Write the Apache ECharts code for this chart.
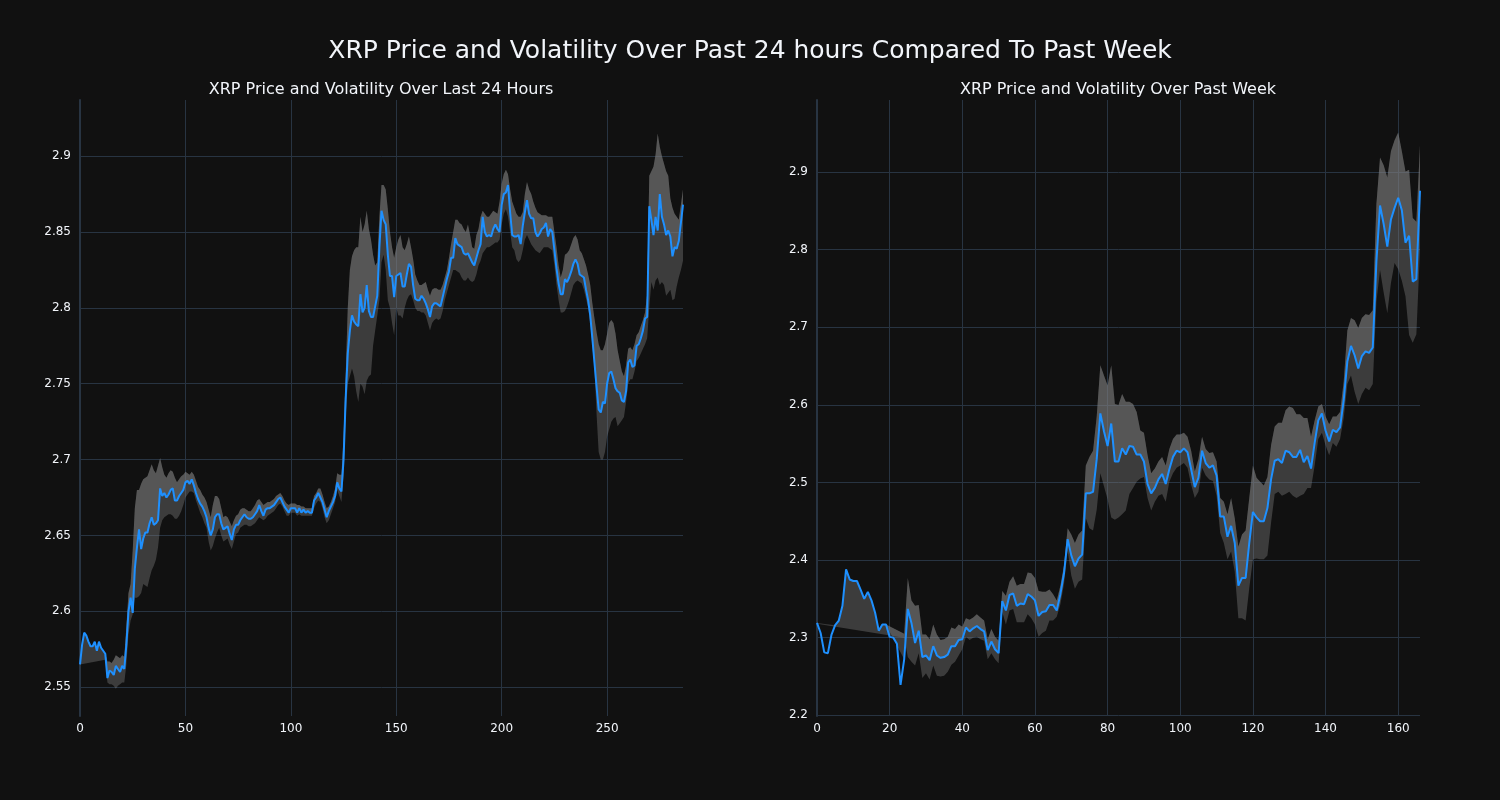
<!DOCTYPE html>
<html><head><meta charset="utf-8">
<script src="https://cdn.jsdelivr.net/npm/echarts@6/dist/echarts.min.js"></script>
<style>html,body{margin:0;padding:0;background:#111111;}#c{width:1500px;height:800px;}</style>
</head><body><div id="c"></div>
<script>
const mainTitle = 'XRP Price and Volatility Over Past 24 hours Compared To Past Week';
const dayTitle = 'XRP Price and Volatility Over Last 24 Hours';
const weekTitle = 'XRP Price and Volatility Over Past Week';

const dayXTicks = [0, 50, 100, 150, 200, 250];
const weekXTicks = [0, 20, 40, 60, 80, 100, 120, 140, 160];
const dayYTicks = [2.55, 2.6, 2.65, 2.7, 2.75, 2.8, 2.85, 2.9];
const weekYTicks = [2.2, 2.3, 2.4, 2.5, 2.6, 2.7, 2.8, 2.9];

const dayPrice = [
2.565,2.578,2.586,2.584,2.580,2.577,2.577,2.580,2.574,2.580,
2.576,2.574,2.572,2.556,2.561,2.560,2.558,2.564,2.562,2.560,
2.564,2.562,2.578,2.600,2.609,2.599,2.628,2.642,2.654,2.641,
2.648,2.652,2.652,2.658,2.662,2.657,2.658,2.660,2.681,2.676,
2.678,2.675,2.677,2.680,2.681,2.673,2.673,2.676,2.678,2.680,
2.685,2.686,2.684,2.687,2.683,2.678,2.674,2.671,2.669,2.666,
2.662,2.655,2.650,2.654,2.662,2.664,2.664,2.658,2.654,2.655,
2.656,2.651,2.647,2.654,2.657,2.657,2.660,2.662,2.664,2.662,
2.661,2.661,2.662,2.664,2.666,2.670,2.666,2.663,2.667,2.668,
2.668,2.669,2.670,2.672,2.674,2.675,2.672,2.669,2.667,2.665,
2.668,2.668,2.668,2.665,2.668,2.665,2.667,2.665,2.666,2.665,
2.665,2.673,2.675,2.678,2.675,2.672,2.667,2.662,2.666,2.669,
2.672,2.676,2.685,2.681,2.679,2.700,2.740,2.770,2.785,2.795,
2.791,2.789,2.788,2.809,2.797,2.800,2.815,2.798,2.794,2.794,
2.801,2.808,2.840,2.864,2.858,2.855,2.835,2.821,2.821,2.807,
2.821,2.822,2.823,2.814,2.814,2.822,2.829,2.827,2.815,2.806,
2.805,2.805,2.808,2.806,2.803,2.799,2.794,2.801,2.803,2.803,
2.802,2.801,2.807,2.813,2.819,2.824,2.833,2.833,2.846,2.842,
2.841,2.840,2.836,2.835,2.836,2.833,2.830,2.828,2.833,2.838,
2.842,2.860,2.850,2.847,2.848,2.847,2.852,2.855,2.852,2.850,
2.868,2.875,2.876,2.881,2.863,2.848,2.847,2.847,2.848,2.842,
2.854,2.863,2.871,2.862,2.859,2.859,2.850,2.847,2.849,2.852,
2.853,2.856,2.847,2.852,2.850,2.838,2.826,2.816,2.809,2.809,
2.819,2.817,2.820,2.824,2.829,2.832,2.829,2.822,2.821,2.820,
2.812,2.805,2.795,2.780,2.764,2.748,2.733,2.731,2.738,2.737,
2.750,2.757,2.758,2.753,2.747,2.745,2.744,2.739,2.738,2.745,
2.764,2.766,2.761,2.762,2.775,2.776,2.780,2.785,2.793,2.794,
2.867,2.858,2.848,2.860,2.851,2.875,2.860,2.855,2.848,2.851,
2.847,2.834,2.840,2.839,2.844,2.856,2.868
];
const dayUpper = [
2.565,2.578,2.586,2.584,2.580,2.577,2.577,2.580,2.574,2.580,
2.576,2.574,2.572,2.567,2.567,2.566,2.568,2.571,2.570,2.569,
2.571,2.570,2.590,2.612,2.618,2.640,2.668,2.680,2.680,2.684,
2.687,2.688,2.689,2.693,2.697,2.693,2.691,2.696,2.701,2.695,
2.690,2.688,2.691,2.693,2.692,2.688,2.685,2.687,2.689,2.690,
2.692,2.691,2.690,2.692,2.690,2.686,2.682,2.680,2.677,2.675,
2.672,2.667,2.662,2.670,2.676,2.676,2.674,2.668,2.662,2.663,
2.662,2.659,2.656,2.660,2.663,2.664,2.667,2.668,2.668,2.667,
2.666,2.666,2.668,2.670,2.673,2.674,2.672,2.670,2.671,2.672,
2.672,2.673,2.674,2.676,2.677,2.678,2.676,2.673,2.671,2.670,
2.671,2.671,2.671,2.670,2.670,2.669,2.669,2.668,2.668,2.668,
2.668,2.676,2.678,2.681,2.681,2.677,2.672,2.668,2.669,2.672,
2.676,2.681,2.691,2.690,2.690,2.715,2.755,2.800,2.825,2.834,
2.838,2.840,2.840,2.860,2.850,2.855,2.864,2.852,2.845,2.835,
2.828,2.830,2.860,2.881,2.881,2.878,2.865,2.850,2.840,2.833,
2.840,2.845,2.848,2.840,2.838,2.842,2.847,2.840,2.832,2.822,
2.818,2.815,2.815,2.816,2.817,2.812,2.808,2.812,2.813,2.813,
2.812,2.812,2.815,2.820,2.825,2.833,2.842,2.850,2.858,2.858,
2.856,2.855,2.852,2.850,2.855,2.848,2.840,2.839,2.848,2.852,
2.860,2.864,2.862,2.860,2.860,2.862,2.864,2.863,2.862,2.870,
2.882,2.888,2.891,2.888,2.878,2.870,2.866,2.862,2.860,2.860,
2.863,2.875,2.883,2.878,2.875,2.870,2.866,2.863,2.862,2.861,
2.861,2.861,2.860,2.860,2.860,2.850,2.840,2.828,2.820,2.825,
2.835,2.836,2.838,2.842,2.846,2.848,2.845,2.838,2.836,2.832,
2.828,2.822,2.815,2.803,2.793,2.784,2.776,2.772,2.772,2.776,
2.783,2.790,2.792,2.790,2.783,2.772,2.765,2.758,2.755,2.762,
2.773,2.774,2.772,2.776,2.782,2.784,2.788,2.792,2.797,2.809,
2.887,2.890,2.893,2.901,2.915,2.906,2.900,2.895,2.890,2.887,
2.872,2.866,2.862,2.860,2.858,2.868,2.878
];
const dayLower = [
2.565,null,null,null,null,null,null,null,null,null,
null,null,2.568,2.553,2.552,2.552,2.551,2.549,2.551,2.552,
2.553,2.553,2.565,2.585,2.594,2.598,2.609,2.609,2.610,2.612,
2.618,2.617,2.616,2.622,2.627,2.630,2.634,2.642,2.655,2.660,
2.662,2.663,2.664,2.664,2.663,2.661,2.661,2.663,2.666,2.670,
2.675,2.677,2.679,2.679,2.678,2.673,2.669,2.665,2.662,2.658,
2.655,2.646,2.640,2.643,2.648,2.652,2.655,2.650,2.646,2.647,
2.648,2.644,2.641,2.646,2.651,2.652,2.655,2.656,2.657,2.657,
2.656,2.656,2.657,2.658,2.660,2.662,2.661,2.660,2.661,2.663,
2.664,2.665,2.666,2.668,2.670,2.671,2.669,2.666,2.663,2.663,
2.665,2.665,2.665,2.663,2.664,2.663,2.663,2.663,2.663,2.663,
2.663,2.668,2.671,2.673,2.672,2.668,2.662,2.658,2.660,2.664,
2.668,2.672,2.680,2.676,2.672,2.690,2.728,2.750,2.755,2.760,
2.755,2.745,2.738,2.750,2.748,2.743,2.752,2.755,2.756,2.775,
2.785,2.795,2.805,2.830,2.835,2.825,2.805,2.800,2.790,2.782,
2.800,2.795,2.795,2.793,2.800,2.805,2.808,2.809,2.805,2.800,
2.798,2.798,2.797,2.797,2.795,2.790,2.785,2.790,2.792,2.793,
2.792,2.793,2.798,2.805,2.810,2.815,2.820,2.825,2.825,2.824,
2.823,2.820,2.818,2.818,2.820,2.818,2.817,2.818,2.822,2.828,
2.831,2.836,2.838,2.840,2.840,2.841,2.842,2.843,2.843,2.845,
2.855,2.862,2.865,2.860,2.850,2.840,2.838,2.832,2.830,2.832,
2.838,2.845,2.848,2.845,2.842,2.840,2.838,2.837,2.836,2.838,
2.840,2.840,2.840,2.839,2.838,2.828,2.815,2.805,2.797,2.797,
2.798,2.801,2.805,2.810,2.815,2.817,2.818,2.817,2.816,2.812,
2.806,2.800,2.790,2.775,2.760,2.730,2.705,2.700,2.700,2.705,
2.715,2.720,2.725,2.727,2.728,2.722,2.724,2.726,2.728,2.738,
2.750,2.753,2.753,2.758,2.765,2.767,2.770,2.773,2.776,2.780,
2.800,2.817,2.812,2.818,2.820,2.815,2.817,2.815,2.808,2.810,
2.812,2.805,2.806,2.814,2.820,2.825,2.831
];

const weekPrice = [
2.319,2.306,2.281,2.280,2.304,2.316,2.322,2.341,2.388,2.375,
2.373,2.373,2.362,2.350,2.359,2.348,2.332,2.309,2.317,2.317,
2.301,2.300,2.292,2.239,2.272,2.337,2.319,2.293,2.309,2.275,
2.277,2.271,2.289,2.277,2.274,2.275,2.278,2.289,2.289,2.297,
2.298,2.313,2.308,2.312,2.315,2.311,2.308,2.284,2.295,2.285,
2.280,2.347,2.335,2.355,2.357,2.341,2.344,2.343,2.356,2.353,
2.348,2.328,2.333,2.334,2.342,2.342,2.335,2.356,2.383,2.427,
2.406,2.392,2.402,2.407,2.486,2.486,2.488,2.530,2.589,2.566,
2.547,2.576,2.527,2.527,2.544,2.536,2.547,2.546,2.536,2.536,
2.527,2.498,2.486,2.493,2.504,2.511,2.498,2.517,2.533,2.541,
2.539,2.544,2.539,2.517,2.494,2.506,2.541,2.525,2.519,2.522,
2.509,2.456,2.456,2.430,2.444,2.422,2.367,2.377,2.377,2.422,
2.462,2.455,2.450,2.450,2.467,2.504,2.528,2.530,2.525,2.541,
2.539,2.533,2.533,2.542,2.526,2.534,2.518,2.551,2.580,2.589,
2.567,2.553,2.568,2.565,2.571,2.606,2.656,2.676,2.664,2.647,
2.663,2.669,2.667,2.674,2.785,2.857,2.833,2.804,2.839,2.854,
2.867,2.851,2.809,2.818,2.759,2.762,2.876
];
const weekUpper = [
2.318,null,null,null,null,2.316,2.322,2.341,2.388,2.375,
2.373,2.373,2.362,2.350,2.359,2.348,2.332,2.309,2.317,2.317,
null,null,null,null,2.305,2.377,2.348,2.341,2.342,2.304,
2.304,2.298,2.317,2.304,2.297,2.298,2.301,2.313,2.311,2.317,
2.314,2.325,2.323,2.326,2.330,2.326,2.322,2.298,2.311,2.301,
2.296,2.360,2.354,2.372,2.379,2.367,2.369,2.369,2.384,2.383,
2.377,2.360,2.359,2.359,2.362,2.356,2.348,2.367,2.393,2.441,
2.433,2.422,2.433,2.438,2.522,2.533,2.541,2.585,2.651,2.638,
2.625,2.651,2.601,2.600,2.614,2.604,2.604,2.601,2.591,2.567,
2.564,2.535,2.512,2.518,2.527,2.533,2.522,2.543,2.556,2.562,
2.562,2.564,2.559,2.541,2.514,2.530,2.559,2.543,2.538,2.539,
2.527,2.480,2.475,2.459,2.480,2.454,2.417,2.433,2.438,2.480,
2.522,2.506,2.501,2.496,2.507,2.548,2.572,2.577,2.577,2.593,
2.598,2.596,2.588,2.588,2.583,2.583,2.559,2.580,2.598,2.601,
2.585,2.575,2.585,2.585,2.591,2.630,2.696,2.712,2.709,2.699,
2.712,2.717,2.716,2.722,2.859,2.919,2.909,2.893,2.927,2.941,
2.951,2.927,2.901,2.903,2.841,2.836,2.935
];
const weekLower = [
2.318,null,null,null,null,null,null,null,null,null,
null,null,null,null,null,null,null,null,null,null,
null,null,null,null,2.300,2.275,2.269,2.264,2.280,2.248,
2.254,2.246,2.264,2.251,2.250,2.251,2.256,2.265,2.269,2.277,
2.285,2.301,2.297,2.300,2.301,2.298,2.296,2.272,2.280,2.272,
2.267,2.333,2.317,2.335,2.337,2.320,2.320,2.320,2.330,2.325,
2.317,2.301,2.306,2.309,2.322,2.322,2.327,2.343,2.369,2.412,
2.380,2.363,2.372,2.375,2.454,2.441,2.438,2.465,2.512,2.495,
2.478,2.455,2.452,2.455,2.459,2.464,2.485,2.493,2.501,2.505,
2.507,2.480,2.464,2.475,2.483,2.485,2.475,2.501,2.512,2.519,
2.522,2.525,2.519,2.497,2.480,2.488,2.519,2.509,2.504,2.502,
2.483,2.435,2.422,2.401,2.411,2.385,2.325,2.325,2.322,2.364,
2.401,2.402,2.401,2.401,2.406,2.448,2.485,2.488,2.483,2.485,
2.488,2.483,2.480,2.483,2.485,2.493,2.493,2.522,2.556,2.564,
2.548,2.535,2.551,2.546,2.556,2.583,2.627,2.638,2.617,2.601,
2.614,2.622,2.619,2.627,2.733,2.774,2.745,2.718,2.757,2.783,
2.775,2.760,2.740,2.690,2.680,2.691,2.800
];

const TEXT = '#f2f5fa';
const GRIDC = '#283442';
const FILL = 'rgba(128,128,128,0.39)';
const FONT = '"DejaVu Sans", Verdana, sans-serif';

function bandRenderer(price, upper, lower) {
  return function (params, api) {
    const up = [], pr = [], lo = [];
    for (let i = 0; i < price.length; i++) {
      if (upper[i] != null) {
        up.push(api.coord([i, upper[i]]));
        pr.push(api.coord([i, price[i]]));
      }
      if (lower[i] != null) lo.push(api.coord([i, lower[i]]));
    }
    const upRev = up.slice().reverse();
    return {
      type: 'group',
      children: [
        { type: 'polygon', shape: { points: lo.concat(upRev) }, style: { fill: FILL } },
        { type: 'polygon', shape: { points: pr.concat(upRev) }, style: { fill: FILL } }
      ]
    };
  };
}

function xAxisCfg(idx, max, ticks) {
  return {
    type: 'value', gridIndex: idx, min: 0, max: max,
    axisLine: { show: false },
    axisTick: { show: false, customValues: ticks },
    axisLabel: { color: TEXT, fontSize: 12, fontFamily: FONT, margin: 7, customValues: ticks },
    splitLine: { show: true, lineStyle: { color: GRIDC, width: 1 } }
  };
}
function yAxisCfg(idx, min, max, ticks) {
  return {
    type: 'value', gridIndex: idx, min: min, max: max,
    axisLine: { show: true, lineStyle: { color: GRIDC, width: 2 } },
    axisTick: { show: false, customValues: ticks },
    axisLabel: { color: TEXT, fontSize: 12, fontFamily: FONT, margin: 9, customValues: ticks },
    splitLine: { show: true, lineStyle: { color: GRIDC, width: 1 } }
  };
}

const chart = echarts.init(document.getElementById('c'), null, { renderer: 'canvas' });
chart.setOption({
  backgroundColor: '#111111',
  animation: false,
  title: [
    { text: mainTitle, left: 'center', top: 34, textStyle: { color: TEXT, fontSize: 25, fontWeight: 'normal', fontFamily: FONT } },
    { text: dayTitle, left: 376, top: 77, textAlign: 'center', textStyle: { color: TEXT, fontSize: 16, fontWeight: 'normal', fontFamily: FONT } },
    { text: weekTitle, left: 1113, top: 77, textAlign: 'center', textStyle: { color: TEXT, fontSize: 16, fontWeight: 'normal', fontFamily: FONT } }
  ],
  grid: [
    { left: 80, top: 100, width: 603, height: 616 },
    { left: 817, top: 100, width: 603, height: 616 }
  ],
  xAxis: [xAxisCfg(0, dayPrice.length - 1, dayXTicks), xAxisCfg(1, weekPrice.length - 1, weekXTicks)],
  yAxis: [yAxisCfg(0, 2.531, 2.937, dayYTicks), yAxisCfg(1, 2.199, 2.993, weekYTicks)],
  series: [
    { type: 'custom', xAxisIndex: 0, yAxisIndex: 0, silent: true, z: 1,
      data: [[0, dayPrice[0]]], renderItem: bandRenderer(dayPrice, dayUpper, dayLower) },
    { type: 'line', xAxisIndex: 0, yAxisIndex: 0, z: 3, showSymbol: false, silent: true,
      data: dayPrice.map((v, i) => [i, v]), lineStyle: { color: '#1e90ff', width: 2 } },
    { type: 'custom', xAxisIndex: 1, yAxisIndex: 1, silent: true, z: 1,
      data: [[0, weekPrice[0]]], renderItem: bandRenderer(weekPrice, weekUpper, weekLower) },
    { type: 'line', xAxisIndex: 1, yAxisIndex: 1, z: 3, showSymbol: false, silent: true,
      data: weekPrice.map((v, i) => [i, v]), lineStyle: { color: '#1e90ff', width: 2 } }
  ]
});
</script>
</body></html>
